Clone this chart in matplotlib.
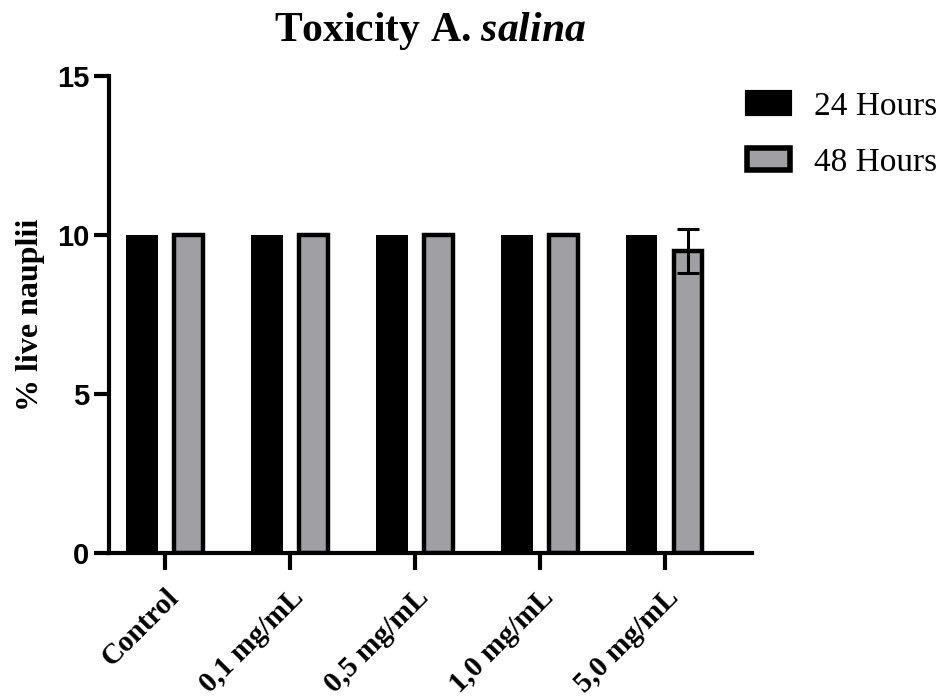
import matplotlib
matplotlib.use("Agg")
import matplotlib.pyplot as plt
import numpy as np
from matplotlib.patches import Patch

categories = ["Control", "0,1 mg/mL", "0,5 mg/mL", "1,0 mg/mL", "5,0 mg/mL"]
hours_24 = [10, 10, 10, 10, 10]
hours_48 = [10, 10, 10, 10, 9.5]
err_24 = [0, 0, 0, 0, 0]
err_48 = [0, 0, 0, 0, 0.7]
y_ticks = [0, 5, 10, 15]

plt.rcParams["mathtext.fontset"] = "custom"
plt.rcParams["mathtext.rm"] = "Liberation Serif:bold"
plt.rcParams["mathtext.it"] = "Liberation Serif:italic:bold"
plt.rcParams["mathtext.bf"] = "Liberation Serif:bold"

fig = plt.figure(figsize=(9.49, 6.97), dpi=100)
ax = fig.add_axes([0.1149, 0.2066, 0.7924 - 0.1149, 0.891 - 0.2066])

x = np.arange(len(categories))
w = 0.25
off = 0.185
gray = "#a0a0a4"

ax.bar(x - off, hours_24, width=w, color="black", edgecolor="black", linewidth=0)
ax.bar(x + off, hours_48, width=w - 0.02, color=gray, edgecolor="black", linewidth=3.2)
for xi, v, e in zip(x + off, hours_48, err_48):
    if e > 0:
        ax.errorbar(xi, v, yerr=e, fmt="none", ecolor="black", elinewidth=2.2,
                    capsize=8, capthick=2.2, zorder=5)

ax.set_xlim(-0.448, 4.696)
ax.set_ylim(0, 15)
ax.set_yticks(y_ticks)
ax.set_yticklabels([str(t) for t in y_ticks], fontfamily="Liberation Sans",
                   fontweight="bold", fontsize=21)
ax.set_xticks(x)
ax.set_xticklabels(categories, rotation=45, ha="right", rotation_mode="anchor",
                   fontfamily="Liberation Serif", fontweight="bold", fontsize=21)

for s in ["top", "right"]:
    ax.spines[s].set_visible(False)
for s in ["left", "bottom"]:
    ax.spines[s].set_linewidth(3)
ax.tick_params(axis="y", length=11, width=3, pad=3)
ax.tick_params(axis="x", length=12, width=3, pad=10)

ax.set_ylabel("% live nauplii", fontfamily="Liberation Serif", fontweight="bold",
              fontsize=23, labelpad=9)

ax.set_title(r"Toxicity A. $\it{salina}$", fontfamily="Liberation Serif",
             fontweight="bold", fontsize=30, pad=25)

handles = [Patch(facecolor="black", edgecolor="black", linewidth=3, label="24 Hours"),
           Patch(facecolor=gray, edgecolor="black", linewidth=4, label="48 Hours")]
fig.legend(handles=handles, loc="upper left", bbox_to_anchor=(0.780, 0.879),
           frameon=False, prop={"family": "Liberation Serif", "size": 24},
           handlelength=1.3, handleheight=0.66, handletextpad=0.72, labelspacing=0.77,
           borderaxespad=0, borderpad=0.2)

fig.savefig("out.png", dpi=100)
